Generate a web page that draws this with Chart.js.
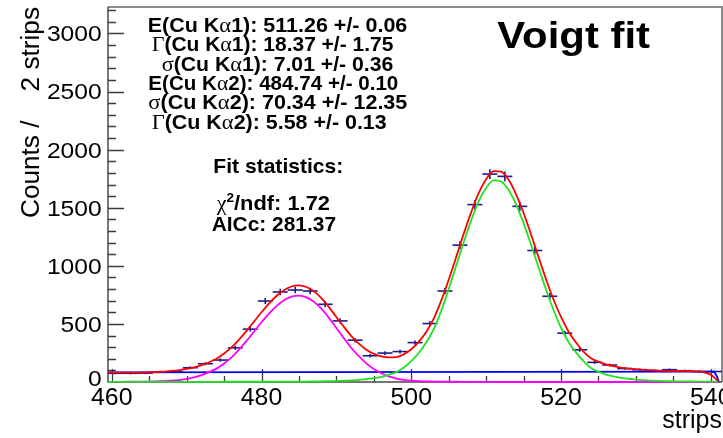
<!DOCTYPE html>
<html>
<head>
<meta charset="utf-8">
<title>Voigt fit</title>
<script src="https://cdn.jsdelivr.net/npm/chart.js@4.4.1/dist/chart.umd.min.js"></script>
<style>
    html, body { margin: 0; padding: 0; background: #fff; }
    #wrap { width: 723px; height: 438px; }
</style>
</head>
<body>
<div id="wrap"><canvas id="voigtChart" width="723" height="438"></canvas></div>
<script>
// histogram: 2 strips per bin
const binCenters = [460.5, 462.5, 464.5, 466.5, 468.5, 470.5, 472.5, 474.5, 476.5, 478.5,
    480.5, 482.5, 484.5, 486.5, 488.5, 490.5, 492.5, 494.5, 496.5, 498.5,
    500.5, 502.5, 504.5, 506.5, 508.5, 510.5, 512.5, 514.5, 516.5, 518.5,
    520.5, 522.5, 524.5, 526.5, 528.5, 530.5, 532.5, 534.5, 536.5, 538.5, 540.5];
const counts = [75, 75, 77, 88, 88, 123, 157, 189, 294, 455,
    697, 775, 792, 783, 669, 526, 360, 226, 249, 262,
    339, 503, 783, 1178, 1527, 1790, 1770, 1512, 1132, 738,
    420, 277, 169, 146, 116, 106, 97, 106, 97, 90, 90];
const countErr = [9, 9, 9, 9, 9, 11, 13, 14, 17, 21,
    26, 28, 28, 28, 26, 23, 19, 15, 16, 16,
    18, 22, 28, 34, 39, 42, 42, 39, 34, 27,
    20, 17, 13, 12, 11, 10, 10, 10, 10, 9, 9];

// fit curves
const fitX = [459.5,
    460, 461, 462, 463, 464, 465, 466, 467, 468, 469,
    470, 471, 472, 473, 474, 475, 476, 477, 478, 479,
    480, 481, 482, 483, 484, 485, 486, 487, 488, 489,
    490, 491, 492, 493, 494, 495, 496, 497, 498, 499,
    500, 501, 502, 503, 504, 505, 506, 507, 508, 509,
    510, 511, 512, 513, 514, 515, 516, 517, 518, 519,
    520, 521, 522, 523, 524, 525, 526, 527, 528, 529,
    530, 531, 532, 533, 534, 535, 536, 537, 538, 539,
    540, 541];
const totalFit = [80,
    80, 80, 80, 81, 82, 84, 86, 90, 95, 102,
    112, 125, 145, 170, 200, 245, 298, 365, 440, 520,
    600, 675, 740, 790, 822, 832, 818, 780, 722, 645,
    560, 475, 395, 330, 278, 242, 220, 212, 215, 238,
    282, 345, 430, 545, 700, 880, 1075, 1275, 1460, 1625,
    1745, 1815, 1810, 1740, 1615, 1455, 1270, 1075, 885, 710,
    560, 435, 340, 262, 205, 175, 152, 136, 124, 116,
    110, 105, 101, 98, 96, 95, 94, 94, 92, 85,
    62, 8];
const ka1Fit = [1,
    1, 1, 1, 1, 1, 1, 1, 1, 1, 1,
    1, 1, 1, 1, 1, 2, 2, 2, 2, 2,
    2, 2, 3, 3, 3, 4, 4, 5, 6, 7,
    9, 11, 14, 18, 24, 33, 45, 62, 85, 125,
    180, 250, 340, 455, 610, 800, 1000, 1200, 1390, 1555,
    1670, 1735, 1725, 1653, 1530, 1368, 1182, 987, 796, 620,
    467, 345, 255, 180, 120, 88, 64, 48, 36, 28,
    21, 16, 12, 9, 7, 6, 5, 5, 4, 4,
    3, 3];
const ka2Fit = [1,
    1, 1, 2, 2, 3, 4, 6, 8, 12, 17,
    27, 40, 60, 85, 115, 159, 212, 279, 354, 434,
    514, 589, 653, 703, 734, 743, 729, 690, 631, 552,
    465, 377, 293, 222, 160, 112, 75, 48, 30, 19,
    12, 8, 5, 4, 3, 2, 2, 1, 1, 1,
    1, 0, 0, 0, 0, 0, 0, 0, 0, 0,
    0, 0, 0, 0, 0, 0, 0, 0, 0, 0,
    0, 0, 0, 0, 0, 0, 0, 0, 0, 0,
    0, 0];
const bgX = [459.5, 540, 540.5, 540.8, 541.1];
const bgFit = [82, 90, 80, 50, 0];

const xTickValues = [460, 480, 500, 520, 540];
const xTickLabels = ['460', '480', '500', '520', '540'];
const yTickValues = [0, 500, 1000, 1500, 2000, 2500, 3000];
const yTickLabels = ['0', '500', '1000', '1500', '2000', '2500', '3000'];

const X_MIN = 459.5, X_MAX = 541.5, Y_MAX = 3228;

const SANS = '"Liberation Sans", Arial, sans-serif';
const SERIF = '"Liberation Serif", "DejaVu Serif", serif';
const B20 = 'bold 20px ' + SANS, G21 = '21px ' + SERIF, B21 = 'bold 21px ' + SANS;

// fit result text, line by line (left, baseline, width in px)
const paramLines = [
    { segs: [['E(Cu K', B20], ['\u03b1', G21], ['1): 511.26 +/- 0.06', B20]], left: 147.7, base: 31.7, w: 259.6 },
    { segs: [['\u0393', G21], ['(Cu K', B20], ['\u03b1', G21], ['1): 18.37 +/- 1.75', B20]], left: 151.7, base: 51.3, w: 241.6 },
    { segs: [['\u03c3', G21], ['(Cu K', B20], ['\u03b1', G21], ['1): 7.01 +/- 0.36', B20]], left: 161.7, base: 70.7, w: 231.6 },
    { segs: [['E(Cu K', B20], ['\u03b1', G21], ['2): 484.74 +/- 0.10', B20]], left: 148.3, base: 90, w: 250 },
    { segs: [['\u03c3', G21], ['(Cu K', B20], ['\u03b1', G21], ['2): 70.34 +/- 12.35', B20]], left: 148.3, base: 109.3, w: 259 },
    { segs: [['\u0393', G21], ['(Cu K', B20], ['\u03b1', G21], ['2): 5.58 +/- 0.13', B20]], left: 151.7, base: 128.7, w: 235 },
    { segs: [['Fit statistics:', B21]], left: 213.3, base: 173.3, w: 130 },
    { segs: [['\u03c7', G21], ['2', 'bold 13px ' + SANS, -8], ['/ndf: 1.72', B21]], left: 216.7, base: 210, w: 113.3 },
    { segs: [['AICc: 281.37', B21]], left: 211.7, base: 230.7, w: 124.3 },
    { segs: [['Voigt fit', 'bold 36px ' + SANS]], left: 497.3, base: 48, w: 152.7 }
];

function segWidth(ctx, segs) {
    let w = 0;
    segs.forEach(s => { ctx.font = s[1]; w += ctx.measureText(s[0]).width; });
    return w;
}

// draws mixed-font text stretched to a given width
function drawRich(ctx, segs, left, base, width) {
    const sx = width / segWidth(ctx, segs);
    ctx.save();
    ctx.translate(left, base);
    ctx.scale(sx, 1);
    let x = 0;
    segs.forEach(s => {
        ctx.font = s[1];
        ctx.fillText(s[0], x, s[2] || 0);
        x += ctx.measureText(s[0]).width;
    });
    ctx.restore();
}

const rootFrame = {
    id: 'rootFrame',
    // frame and ticks go under the curves
    beforeDatasetsDraw(chart) {
        const { ctx, chartArea: a, scales: { x, y } } = chart;
        ctx.save();
        ctx.strokeStyle = '#8c8c8c';
        ctx.lineWidth = 2;
        ctx.beginPath();
        ctx.moveTo(a.left, a.top); ctx.lineTo(a.right, a.top); ctx.lineTo(a.right, a.bottom);
        ctx.stroke();
        ctx.strokeStyle = '#4a4a4a';
        ctx.lineWidth = 1.5;
        ctx.beginPath();
        ctx.moveTo(a.left, a.top); ctx.lineTo(a.left, a.bottom); ctx.lineTo(a.right, a.bottom);
        ctx.stroke();

        ctx.lineWidth = 1.3;
        ctx.strokeStyle = '#3a3a3a';
        ctx.beginPath();
        for (let v = 100; v < Y_MAX; v += 100) {
            const py = Math.round(y.getPixelForValue(v)) + 0.5;
            const len = v % 500 === 0 ? 16 : 8;
            ctx.moveTo(a.left, py); ctx.lineTo(a.left + len, py);
        }
        for (let v = 460; v <= 540; v += 5) {
            const px = Math.round(x.getPixelForValue(v)) + 0.5;
            const len = v % 20 === 0 ? 13 : 6;
            ctx.moveTo(px, a.bottom); ctx.lineTo(px, a.bottom - len);
        }
        ctx.stroke();
        ctx.restore();
    },
    afterDraw(chart) {
        const { ctx, scales: { x, y } } = chart;
        ctx.save();
        ctx.fillStyle = '#000';
        ctx.textBaseline = 'alphabetic';
        ctx.textAlign = 'left';

        // tick labels
        const yFont = '22px ' + SANS;
        ctx.font = yFont;
        yTickValues.forEach((v, i) => {
            const txt = yTickLabels[i];
            ctx.font = yFont;
            const w = ctx.measureText(txt).width * 1.12;
            const py = y.getPixelForValue(v) + 7.9 - (v === 0 ? 4 : 0);
            drawRich(ctx, [[txt, yFont]], 101.7 - w, py, w);
        });
        const xFont = '23px ' + SANS;
        xTickValues.forEach((v, i) => {
            const txt = xTickLabels[i];
            ctx.font = xFont;
            const w = ctx.measureText(txt).width * 1.08;
            drawRich(ctx, [[txt, xFont]], x.getPixelForValue(v) - w / 2, 405, w);
        });

        // axis titles
        const titleFont = '25px ' + SANS;
        ctx.save();
        ctx.translate(38.5, 218);
        ctx.rotate(-Math.PI / 2);
        drawRich(ctx, [['Counts /    2 strips', titleFont]], 0, 0, 211);
        ctx.restore();
        ctx.font = '25px ' + SANS;
        const sw = ctx.measureText('strips').width;
        drawRich(ctx, [['strips', '25px ' + SANS]], 722 - sw, 428, sw);

        // fit results
        paramLines.forEach(l => drawRich(ctx, l.segs, l.left, l.base, l.w));
        ctx.restore();
    }
};

function curve(xs, ys, color, order) {
    return {
        data: xs.map((v, i) => ({ x: v, y: ys[i] })),
        showLine: true,
        borderColor: color,
        borderWidth: 1.8,
        pointRadius: 0,
        cubicInterpolationMode: 'monotone',
        clip: 4,
        order: order
    };
}

const navy = '#1c1c8e';
const histPoints = binCenters.map((v, i) => ({ x: v, y: counts[i] }));

new Chart(document.getElementById('voigtChart'), {
    type: 'scatter',
    data: {
        datasets: [
            curve(fitX, totalFit, '#ff0000', 1),
            curve(fitX, ka1Fit, '#22e022', 2),
            curve(fitX, ka2Fit, '#ff00ff', 3),
            curve(bgX, bgFit, '#0000ff', 4),
            {
                // horizontal bars = bin width
                data: histPoints,
                pointStyle: 'line',
                pointRadius: c => Math.abs(c.chart.scales.x.getPixelForValue(1) - c.chart.scales.x.getPixelForValue(0)),
                pointBorderColor: navy,
                pointBorderWidth: 1.6,
                order: 5
            },
            {
                // vertical error bars
                data: histPoints,
                pointStyle: 'line',
                pointRotation: 90,
                pointRadius: c => c.chart.scales.y.getPixelForValue(0) - c.chart.scales.y.getPixelForValue(countErr[c.dataIndex]),
                pointBorderColor: navy,
                pointBorderWidth: 1.6,
                order: 6
            }
        ]
    },
    options: {
        responsive: false,
        animation: false,
        devicePixelRatio: 1,
        events: [],
        layout: { padding: { left: 108, right: 1, top: 7, bottom: 56 } },
        plugins: { legend: { display: false }, tooltip: { enabled: false } },
        scales: {
            x: { type: 'linear', min: X_MIN, max: X_MAX, display: false },
            y: { type: 'linear', min: 0, max: Y_MAX, display: false }
        }
    },
    plugins: [rootFrame]
});
</script>
</body>
</html>
